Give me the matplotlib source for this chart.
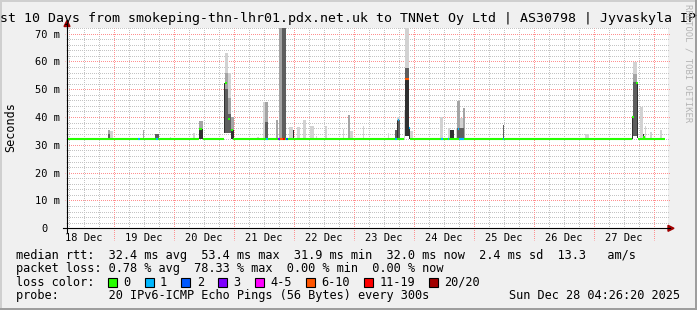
import numpy as np
import pandas as pd
import matplotlib
matplotlib.use("Agg")
import matplotlib.pyplot as plt
import matplotlib.dates as mdates
from matplotlib.lines import Line2D
from matplotlib.patches import Polygon, Rectangle

# ---------------- data ----------------
title = "Last 10 Days from smokeping-thn-lhr01.pdx.net.uk to TNNet Oy Ltd | AS30798 | Jyvaskyla IPv6"
x_start = "2025-12-18 05:12"
x_end = "2025-12-28 05:36"
y_max_ms = 72
y_ticks_ms = [0, 10, 20, 30, 40, 50, 60, 70]
y_tick_labels = ["0  ", "10 m", "20 m", "30 m", "40 m", "50 m", "60 m", "70 m"]
y_label = "Seconds"

baseline_ms = 32.1
baseline_start = "2025-12-18 05:12"
baseline_end = "2025-12-28 04:24"
gap_start = ["2025-12-20 10:00", "2025-12-20 20:00", "2025-12-23 20:00", "2025-12-27 15:12"]
gap_end = ["2025-12-20 11:36", "2025-12-20 23:36", "2025-12-23 22:24", "2025-12-27 17:36"]

# smoke segments: start, duration (h), low (ms), high (ms), shade level (0 light .. 3 darkest)
smoke_start = [
    "2025-12-18 21:36", "2025-12-18 21:36", "2025-12-18 22:24", "2025-12-19 11:36",
    "2025-12-19 16:24", "2025-12-19 22:24", "2025-12-20 07:36", "2025-12-20 10:00",
    "2025-12-20 10:00", "2025-12-20 20:00", "2025-12-20 20:24", "2025-12-20 20:24",
    "2025-12-20 20:24", "2025-12-20 21:36", "2025-12-20 21:36", "2025-12-20 21:36",
    "2025-12-20 22:48", "2025-12-20 22:48", "2025-12-21 09:12", "2025-12-21 11:36",
    "2025-12-21 12:24", "2025-12-21 12:24", "2025-12-21 16:48", "2025-12-21 18:00",
    "2025-12-21 19:12", "2025-12-21 22:00", "2025-12-21 23:36", "2025-12-22 01:12",
    "2025-12-22 03:36", "2025-12-22 06:24", "2025-12-22 08:48", "2025-12-22 12:24",
    "2025-12-22 19:36", "2025-12-22 21:36", "2025-12-22 22:24", "2025-12-23 03:36",
    "2025-12-23 13:36", "2025-12-23 16:24", "2025-12-23 17:12", "2025-12-23 17:12",
    "2025-12-23 17:12", "2025-12-23 20:00", "2025-12-23 20:24", "2025-12-23 20:24",
    "2025-12-23 20:24", "2025-12-23 22:00", "2025-12-23 22:24", "2025-12-24 10:24",
    "2025-12-24 13:36", "2025-12-24 14:24", "2025-12-24 16:48", "2025-12-24 17:12",
    "2025-12-24 18:24", "2025-12-24 19:36", "2025-12-24 17:12", "2025-12-25 11:36",
    "2025-12-26 12:24", "2025-12-26 20:24", "2025-12-27 15:12", "2025-12-27 15:36",
    "2025-12-27 15:36", "2025-12-27 15:36", "2025-12-27 17:12", "2025-12-27 18:24",
    "2025-12-27 19:36", "2025-12-27 20:24", "2025-12-27 22:24", "2025-12-28 02:24",
]
smoke_hours = [
    0.8, 0.8, 1.2, 0.4,
    1.6, 0.4, 0.8, 1.6,
    1.6, 0.4, 1.2, 1.2,
    1.2, 1.2, 1.2, 1.2,
    1.2, 1.2, 0.8, 0.8,
    1.2, 1.2, 0.8, 1.2,
    1.6, 1.6, 0.4, 1.2,
    1.2, 1.6, 0.4, 0.8,
    0.4, 0.8, 1.2, 0.4,
    0.4, 0.8, 1.2, 1.2,
    0.4, 0.4, 1.6, 1.6,
    1.6, 0.4, 1.2, 1.2,
    0.8, 1.6, 0.4, 1.2,
    1.2, 0.8, 2.8, 0.4,
    0.4, 1.6, 0.4, 1.6,
    1.6, 1.6, 0.4, 1.2,
    0.4, 0.4, 0.8, 0.8,
]
smoke_lo = [
    32.0, 32.0, 32.0, 32.0,
    32.0, 32.0, 32.0, 32.0,
    32.0, 34.3, 34.3, 34.3,
    34.3, 34.3, 34.3, 34.3,
    32.0, 32.0, 32.0, 32.0,
    32.0, 32.0, 32.0, 32.0,
    32.0, 32.0, 32.0, 32.0,
    32.0, 32.0, 32.0, 32.0,
    32.0, 32.0, 32.0, 32.0,
    32.0, 32.0, 32.0, 32.0,
    32.0, 32.0, 33.0, 33.0,
    33.0, 32.0, 32.0, 32.0,
    32.0, 32.0, 32.0, 32.0,
    32.0, 32.0, 32.0, 32.0,
    32.0, 32.0, 32.0, 33.0,
    33.0, 33.0, 32.5, 32.0,
    32.0, 32.0, 32.0, 32.0,
]
smoke_hi = [
    35.4, 34.0, 35.0, 35.4,
    34.0, 32.8, 34.3, 38.7,
    35.6, 52.1, 62.9, 56.0,
    50.0, 56.0, 47.0, 41.0,
    40.0, 35.3, 32.8, 45.4,
    45.4, 38.3, 38.9, 80.0,
    80.0, 36.5, 35.3, 36.5,
    38.9, 36.7, 33.2, 36.7,
    35.6, 40.7, 35.0, 36.7,
    34.3, 35.3, 40.0, 38.9,
    38.6, 42.4, 80.0, 57.5,
    53.5, 36.0, 35.0, 40.0,
    36.0, 35.2, 36.0, 45.8,
    39.6, 43.2, 36.0, 37.3,
    32.6, 33.8, 40.0, 59.8,
    55.5, 52.6, 52.4, 43.7,
    34.0, 36.7, 34.7, 35.3,
]
smoke_shade = [
    1, 2, 0, 1,
    2, 0, 0, 1,
    3, 3, 0, 1,
    2, 0, 1, 2,
    1, 3, 0, 0,
    1, 2, 1, 1,
    2, 0, 3, 0,
    0, 0, 0, 0,
    0, 1, 0, 0,
    0, 2, 0, 2,
    3, 0, 0, 2,
    3, 3, 0, 0,
    0, 3, 0, 1,
    0, 1, 2, 2,
    0, 0, 3, 0,
    1, 2, 3, 0,
    3, 0, 0, 0,
]

# median segments: start, duration (h), value (ms), loss class index
med_start = [
    "2025-12-19 09:36", "2025-12-19 16:48", "2025-12-20 10:00", "2025-12-20 20:24",
    "2025-12-20 21:36", "2025-12-20 22:48", "2025-12-21 12:48", "2025-12-21 17:36",
    "2025-12-21 18:24", "2025-12-21 19:36", "2025-12-21 20:48", "2025-12-23 16:24",
    "2025-12-23 17:36", "2025-12-23 20:24", "2025-12-23 22:00", "2025-12-24 10:48",
    "2025-12-24 13:36", "2025-12-24 17:36", "2025-12-24 18:00", "2025-12-25 11:36",
    "2025-12-27 15:12", "2025-12-27 16:48", "2025-12-27 19:36",
]
med_hours = [0.8, 0.8, 1.2, 0.8, 0.8, 0.8, 0.8, 0.8, 1.2, 0.8, 0.8, 0.8,
             0.4, 1.6, 0.4, 0.8, 0.4, 0.4, 2.0, 0.4, 0.8, 0.8, 0.8]
med_ms = [32.1, 32.1, 35.6, 52.1, 39.2, 35.3, 32.1, 32.1, 32.1, 32.1, 32.1, 32.1,
          38.9, 53.6, 36.0, 32.1, 32.1, 35.7, 32.1, 32.1, 40.0, 52.4, 32.9]
med_loss = [1, 1, 0, 0, 0, 0, 1, 3, 5, 6, 2, 1, 1, 5, 1, 1, 1, 1, 1, 1, 0, 0, 0]

loss_labels = ["0", "1", "2", "3", "4-5", "6-10", "11-19", "20/20"]
loss_colors = ["#26ff00", "#00b8ff", "#0059ff", "#7e00ff", "#ff00ff", "#ff5500", "#ff0000", "#a10000"]

rtt_stats = ["32.4 ms avg", "53.4 ms max", "31.9 ms min", "32.0 ms now", "2.4 ms sd", "13.3   am/s"]
loss_stats = ["0.78 % avg", "78.33 % max", "0.00 % min", "0.00 % now"]
probe_text = "20 IPv6-ICMP Echo Pings (56 Bytes) every 300s"
stamp_text = "Sun Dec 28 04:26:20 2025"
watermark = "RRDTOOL / TOBI OETIKER"

# ---------------- style / layout ----------------
W, H, DPI = 697, 310, 100
MONO = "DejaVu Sans Mono"
shade_colors = ["#d2d2d2", "#a4a4a4", "#5e5e5e", "#303030"]
BG = "#f0f0f0"
MINOR_C = "#c4c4c4"
MAJOR_C = "#ff9090"
DOT = (0.5, (1, 1))


def fx(x):
    return x / W


def fy(y):
    return 1 - y / H


fig = plt.figure(figsize=(W / DPI, H / DPI), dpi=DPI, facecolor=BG)
PL, PR, PT, PB = 67, 668, 28, 228.3
ax = fig.add_axes([fx(PL), fy(PB), (PR - PL) / W, (PB - PT) / H])
ax.set_facecolor("white")
for s in ax.spines.values():
    s.set_visible(False)

t0 = mdates.date2num(pd.Timestamp(x_start))
t1 = mdates.date2num(pd.Timestamp(x_end))
ax.set_xlim(t0, t1)
ax.set_ylim(0, y_max_ms)
ms_per_px = y_max_ms / (PB - PT)
days_per_px = (t1 - t0) / (PR - PL)

# grid
ax.xaxis.set_major_locator(mdates.HourLocator(byhour=[12]))
ax.xaxis.set_major_formatter(mdates.DateFormatter("%d %b"))
ax.set_yticks(y_ticks_ms)
ax.set_yticklabels(y_tick_labels)

six_hours = pd.date_range("2025-12-18 06:00", "2025-12-28 00:00", freq="6h")
six_hours = six_hours[six_hours.hour != 0]
ax.vlines(mdates.date2num(six_hours), 0, y_max_ms, colors=MINOR_C, linestyles=DOT,
          linewidth=0.72, zorder=0.5)
minor_y = np.arange(2, y_max_ms + 0.1, 2)
minor_y = minor_y[minor_y % 10 != 0]
ax.hlines(minor_y, t0 - days_per_px, t1 + days_per_px, colors=MINOR_C, linestyles=DOT,
          linewidth=0.72, zorder=0.5, clip_on=False)
ax.hlines(y_ticks_ms[1:], t0 - 2 * days_per_px, t1 + 2 * days_per_px, colors=MAJOR_C,
          linestyles=DOT, linewidth=0.72, zorder=0.6, clip_on=False)
midnights = pd.date_range("2025-12-19", "2025-12-28", freq="D")
ax.vlines(mdates.date2num(midnights), -12 * ms_per_px, y_max_ms, colors=MAJOR_C, linestyles=DOT,
          linewidth=0.72, zorder=0.6, clip_on=False)

ax.tick_params(axis="both", which="both", length=0)
ax.tick_params(axis="x", which="major", pad=3.2, labelsize=7.5)
ax.tick_params(axis="y", which="major", pad=4.7, labelsize=7.5)
for lab in ax.get_xticklabels() + ax.get_yticklabels():
    lab.set_fontfamily(MONO)

# smoke
s_start = mdates.date2num(pd.to_datetime(smoke_start))
s_w = np.array(smoke_hours) / 24.0
s_lo = np.array(smoke_lo)
s_hi = np.array(smoke_hi)
s_sh = np.array(smoke_shade)
for lvl in range(4):
    m = s_sh == lvl
    ax.bar(s_start[m], s_hi[m] - s_lo[m], bottom=s_lo[m], width=s_w[m], align="edge",
           color=shade_colors[lvl], linewidth=0, zorder=2 + lvl * 0.1)

# baseline median
b0 = mdates.date2num(pd.Timestamp(baseline_start))
b1 = mdates.date2num(pd.Timestamp(baseline_end))
g0 = mdates.date2num(pd.to_datetime(gap_start))
g1 = mdates.date2num(pd.to_datetime(gap_end))
seg_s = np.concatenate([[b0], g1])
seg_e = np.concatenate([g0, [b1]])
ax.hlines([baseline_ms] * len(seg_s), seg_s, seg_e, colors=loss_colors[0], linewidth=1.5, zorder=4)

m_start = mdates.date2num(pd.to_datetime(med_start))
m_end = m_start + np.array(med_hours) / 24.0
ax.hlines(med_ms, m_start, m_end, colors=[loss_colors[i] for i in med_loss],
          linewidth=1.5, zorder=5)

# axes lines + arrows
fig.add_artist(Line2D([fx(63), fx(670)], [fy(PB), fy(PB)], color="black", linewidth=0.8))
fig.add_artist(Line2D([fx(PL), fx(PL)], [fy(232), fy(24)], color="black", linewidth=0.8))
fig.add_artist(Polygon([(fx(668), fy(PB - 3)), (fx(674), fy(PB)), (fx(668), fy(PB + 3))],
                       closed=True, color="#a00000", transform=fig.transFigure))
fig.add_artist(Polygon([(fx(PL - 3), fy(26.5)), (fx(PL), fy(20.5)), (fx(PL + 3), fy(26.5))],
                       closed=True, color="#a00000", transform=fig.transFigure))

# frame shading
fig.add_artist(Rectangle((0, fy(2)), 1, 2 / H, color="#cfcfcf", transform=fig.transFigure, lw=0))
fig.add_artist(Rectangle((0, 0), 2 / W, 1, color="#cfcfcf", transform=fig.transFigure, lw=0))
fig.add_artist(Rectangle((fx(W - 2.5), 0), 2.5 / W, 1, color="#9e9e9e", transform=fig.transFigure, lw=0))
fig.add_artist(Rectangle((0, 0), 1, 2.5 / H, color="#9e9e9e", transform=fig.transFigure, lw=0))

# texts
fig.text(0.5, fy(18.5), title, ha="center", va="center", fontsize=9.57, family=MONO)
fig.text(fx(10.5), fy(127.5), y_label, rotation=90, ha="center", va="center",
         fontsize=8.5, family=MONO)
fig.text(fx(688), fy(63.5), watermark, rotation=270, ha="center", va="center",
         fontsize=6.4, family=MONO, color="#b4b4b4")

LF = 8.55
CW = 7.15
LX = 16
fig.text(fx(LX), fy(255), "median rtt:  " + "  ".join(rtt_stats), ha="left", va="center",
         fontsize=LF, family=MONO)
fig.text(fx(LX), fy(268.3), "packet loss: " + "  ".join(loss_stats), ha="left", va="center",
         fontsize=LF, family=MONO)
fig.text(fx(LX), fy(282.3), "loss color:", ha="left", va="center", fontsize=LF, family=MONO)
bx = LX + 13 * CW - 1
for lab, col in zip(loss_labels, loss_colors):
    fig.add_artist(Rectangle((fx(bx), fy(286.7)), 9 / W, 9 / H, facecolor=col, edgecolor="black",
                             linewidth=0.8, transform=fig.transFigure))
    fig.text(fx(bx + 15.3), fy(282.3), lab, ha="left", va="center", fontsize=LF, family=MONO)
    bx += 29.55 + CW * len(lab)
fig.text(fx(LX), fy(295.7), "probe:       " + probe_text, ha="left", va="center",
         fontsize=LF, family=MONO)
fig.text(fx(680), fy(295.7), stamp_text, ha="right", va="center", fontsize=LF, family=MONO)

fig.savefig("out.png", dpi=DPI, facecolor=BG)
